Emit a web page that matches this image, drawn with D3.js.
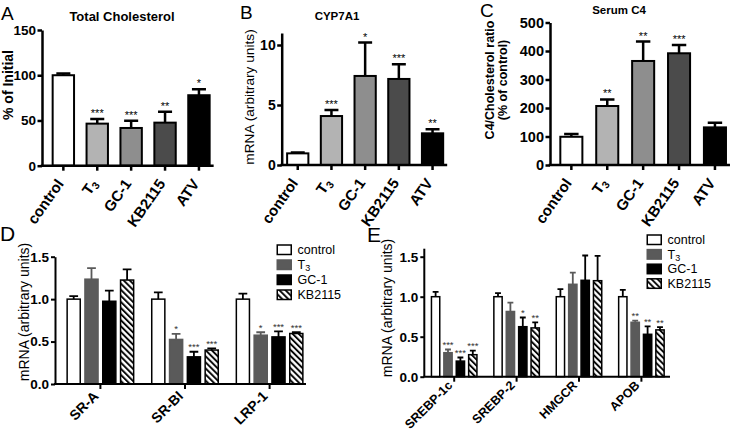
<!DOCTYPE html>
<html><head><meta charset="utf-8">
<script src="https://cdn.jsdelivr.net/npm/d3@7"></script>
<style>
body{margin:0;background:#fff}
svg{display:block}
text{font-family:"Liberation Sans",Arial,Helvetica,sans-serif}
</style>
</head><body>
<svg id="chart" width="733" height="432"></svg>
<script>
// ---------- DATA ----------
const treatments = ["control", "T3", "GC-1", "KB2115", "ATV"];

const cholMean  = [100, 46.5, 41.7, 47.6, 77.9];
const cholSem   = [2, 5.2, 8.1, 12.1, 6.6];
const cholStars = ["", "***", "***", "**", "*"];
const cholTicks = [0, 50, 100, 150];

const cypMean  = [0.97, 4.08, 7.42, 7.17, 2.64];
const cypSem   = [0.08, 0.5, 2.78, 1.22, 0.33];
const cypStars = ["", "***", "*", "***", "**"];
const cypTicks = [0, 5, 10];

const c4Mean  = [99, 207, 365, 392, 132];
const c4Sem   = [10, 23, 68, 29, 16];
const c4Stars = ["", "**", "**", "***", ""];
const c4Ticks = [0, 100, 200, 300, 400, 500];

const series = ["control", "T3", "GC-1", "KB2115"];

const dGenes = ["SR-A", "SR-BI", "LRP-1"];
const dControl = [1.0, 1.0, 1.0];
const dControlSem = [0.035, 0.08, 0.065];
const dT3 = [1.235, 0.525, 0.575];
const dT3Sem = [0.13, 0.065, 0.035];
const dGC1 = [0.975, 0.32, 0.555];
const dGC1Sem = [0.125, 0.06, 0.065];
const dKB = [1.225, 0.40, 0.595];
const dKBSem = [0.125, 0.02, 0.015];
const dStars = [["", "", ""], ["", "*", "*"], ["", "***", "***"], ["", "***", "***"]];

const eGenes = ["SREBP-1c", "SREBP-2", "HMGCR", "APOB"];
const eControl = [1.0, 1.0, 1.0, 1.0];
const eControlSem = [0.06, 0.045, 0.095, 0.085];
const eT3 = [0.30, 0.815, 1.155, 0.68];
const eT3Sem = [0.04, 0.11, 0.145, 0.02];
const eGC1 = [0.195, 0.625, 1.205, 0.53];
const eGC1Sem = [0.045, 0.115, 0.31, 0.10];
const eKB = [0.275, 0.61, 1.20, 0.585];
const eKBSem = [0.05, 0.07, 0.31, 0.035];
const eStars = [["", "", "", ""], ["***", "", "", "**"], ["***", "*", "", "**"], ["***", "**", "", "**"]];

const mrnaTicks = [0, 0.5, 1.0, 1.5];

// ---------- STYLE ----------
const fillsABC = ["#ffffff", "#b3b3b3", "#8e8e8e", "#4b4b4b", "#000000"];
const fillsDE = ["#ffffff", "#5a5a5a", "#000000", "url(#hatch)"];
const strokeDE = ["#000", "#5a5a5a", "#000", "#000"];

const svg = d3.select("#chart");
const defs = svg.append("defs");
const pat = defs.append("pattern").attr("id", "hatch")
  .attr("patternUnits", "userSpaceOnUse").attr("width", 4.3).attr("height", 4.3)
  .attr("patternTransform", "rotate(-45)");
pat.append("rect").attr("width", 4.3).attr("height", 4.3).attr("fill", "#fff");
pat.append("line").attr("x1", 1).attr("y1", 0).attr("x2", 1).attr("y2", 4.3)
  .attr("stroke", "#000").attr("stroke-width", 1.9);

function labelText(sel, d, sub) {
  if (d === "T3") {
    sel.append("tspan").text("T");
    sel.append("tspan").attr("font-size", sub).attr("dy", "0.25em").text("3");
  } else sel.text(d);
}

function styleAxis(a, sw, fs, bold) {
  a.select(".domain").attr("stroke-width", sw).attr("stroke", "#000");
  a.selectAll(".tick line").attr("stroke-width", sw).attr("stroke", "#000");
  a.selectAll(".tick text").attr("font-size", fs).attr("font-weight", bold ? "bold" : "normal")
    .attr("fill", "#000").attr("font-family", '"Liberation Sans",Arial,sans-serif');
}

function drawSimple(o) {
  const g = svg.append("g");
  const x = d3.scaleBand().domain(treatments).range(o.xr).paddingInner(o.pi).paddingOuter(o.pi / 2);
  const y = d3.scaleLinear().domain(o.yd).range(o.yr);
  const bw = x.bandwidth();
  const cx = d => x(d) + bw / 2;
  const y0 = y(0);
  const cw = bw * 0.6;
  const top = i => y(o.mean[i] + o.sem[i]);

  g.selectAll(".eb").data(treatments).join("path")
    .attr("d", (d, i) => `M${cx(d)},${y(o.mean[i])}V${top(i)}M${cx(d) - cw / 2},${top(i)}H${cx(d) + cw / 2}`)
    .attr("stroke", "#000").attr("stroke-width", 2.5).attr("fill", "none");
  g.selectAll(".bar").data(treatments).join("rect")
    .attr("x", d => x(d) + 1).attr("width", bw - 2)
    .attr("y", (d, i) => y(o.mean[i])).attr("height", (d, i) => y0 - y(o.mean[i]))
    .attr("fill", (d, i) => fillsABC[i]).attr("stroke", "#000").attr("stroke-width", 2);
  g.selectAll(".star").data(treatments).join("text")
    .attr("x", cx).attr("y", (d, i) => top(i) - 2)
    .attr("text-anchor", "middle").attr("font-size", 11).attr("fill", "#000")
    .text((d, i) => o.stars[i]);

  const ya = g.append("g").attr("transform", `translate(${o.ax},0)`)
    .call(d3.axisLeft(y).tickValues(o.ticks).tickSize(4.5).tickSizeOuter(0).tickPadding(1.5));
  styleAxis(ya, 2.5, o.tfs, true);

  const xa = g.append("g").attr("transform", `translate(0,${y0})`)
    .call(d3.axisBottom(x).tickSize(5).tickSizeOuter(0).tickFormat(""));
  const xend = x(treatments[treatments.length - 1]) + bw + 3;
  xa.select(".domain").attr("d", `M${o.ax - 1.25},0H${xend}`);
  styleAxis(xa, 2.5, 14, true);

  g.selectAll(".xl").data(treatments).join("text")
    .attr("transform", d => `translate(${cx(d) + 1},${y0 + 18}) rotate(-55)`)
    .attr("text-anchor", "end").attr("font-size", 15).attr("font-weight", "bold")
    .each(function (d) { labelText(d3.select(this), d, 10.5); });

  g.append("text").attr("x", o.titleX).attr("y", o.titleY).attr("text-anchor", "middle")
    .attr("font-size", o.titleSize).attr("font-weight", "bold").text(o.title);
  g.append("text").attr("x", o.letterX).attr("y", o.letterY).attr("font-size", 19).text(o.letter);
  o.ylabel.forEach((t, k) => {
    g.append("text").attr("transform", `translate(${o.ylx[k]},${o.yly}) rotate(-90)`)
      .attr("text-anchor", "middle").attr("font-size", o.ylfs)
      .attr("font-weight", o.ylbold ? "bold" : "normal").text(t);
  });
}

drawSimple({xr: [46.4, 215.9], pi: 0.31, yd: [0, 150], yr: [165.7, 30], ax: 42, ticks: cholTicks,
  tfs: 13.5, mean: cholMean, sem: cholSem, stars: cholStars, title: "Total Cholesterol", titleX: 122, titleY: 21,
  titleSize: 13, letter: "A", letterX: 1, letterY: 20, ylabel: ["% of Initial"], ylx: [12.5], yly: 85, ylfs: 14, ylbold: true});
drawSimple({xr: [280.9, 449.4], pi: 0.31, yd: [0, 11], yr: [165, 33], ax: 281.7, ticks: cypTicks,
  tfs: 14, mean: cypMean, sem: cypSem, stars: cypStars, title: "CYP7A1", titleX: 337, titleY: 20,
  titleSize: 11.5, letter: "B", letterX: 240, letterY: 19, ylabel: ["mRNA (arbitrary units)"], ylx: [254], yly: 97, ylfs: 13.7, ylbold: false});
drawSimple({xr: [553.4, 732.9], pi: 0.33, yd: [0, 500], yr: [165, 22.5], ax: 550, ticks: c4Ticks,
  tfs: 14.5, mean: c4Mean, sem: c4Sem, stars: c4Stars, title: "Serum C4", titleX: 619, titleY: 14,
  titleSize: 11.5, letter: "C", letterX: 480, letterY: 17, ylabel: ["C4/Cholesterol ratio", "(% of control)"], ylx: [494, 507], yly: 80, ylfs: 12.5, ylbold: true});

function drawGrouped(o) {
  const g = svg.append("g");
  const x0 = d3.scaleBand().domain(o.genes).range(o.xr).paddingInner(o.pi).paddingOuter(o.pi / 2);
  const x1 = d3.scaleBand().domain(series).range([0, x0.bandwidth()]).paddingInner(o.pin);
  const y = d3.scaleLinear().domain(o.yd).range(o.yr);
  const y0 = y(0);
  const bw = x1.bandwidth();
  const cw = bw * 0.6;
  const rows = [];
  series.forEach((s, si) => o.genes.forEach((gn, gi) => rows.push({s, si, gn, gi, v: o.vals[si][gi], e: o.sems[si][gi], st: o.stars[si][gi]})));
  const cx = r => x0(r.gn) + x1(r.s) + bw / 2;
  const top = r => y(r.v + r.e);

  g.selectAll(".eb").data(rows).join("path")
    .attr("d", r => `M${cx(r)},${y(r.v)}V${top(r)}M${cx(r) - cw / 2},${top(r)}H${cx(r) + cw / 2}`)
    .attr("stroke", r => strokeDE[r.si]).attr("stroke-width", 1.8).attr("fill", "none");
  g.selectAll(".bar").data(rows).join("rect")
    .attr("x", r => x0(r.gn) + x1(r.s) + 0.75).attr("width", bw - 1.5)
    .attr("y", r => y(r.v)).attr("height", r => y0 - y(r.v))
    .attr("fill", r => fillsDE[r.si]).attr("stroke", r => strokeDE[r.si]).attr("stroke-width", 1.5);
  g.selectAll(".star").data(rows).join("text")
    .attr("x", cx).attr("y", r => top(r) - 1.5)
    .attr("text-anchor", "middle").attr("font-size", 9.5).attr("fill", "#333")
    .text(r => r.st);

  const ya = g.append("g").attr("transform", `translate(${o.ax},0)`)
    .call(d3.axisLeft(y).tickValues(mrnaTicks).tickSize(4).tickSizeOuter(0).tickPadding(2).tickFormat(d3.format(".1f")));
  styleAxis(ya, 2, 13.5, true);
  if (o.yd[1] > 1.5) ya.select(".domain").attr("d", `M0,${y(o.yd[1])}V${y0}`);

  const xa = g.append("g").attr("transform", `translate(0,${y0})`)
    .call(d3.axisBottom(x0).tickSize(5).tickSizeOuter(0).tickFormat(""));
  xa.select(".domain").attr("d", `M${o.ax - 1},0H${o.xend}`);
  styleAxis(xa, 2, 12, true);

  g.selectAll(".xl").data(o.genes).join("text")
    .attr("transform", d => `translate(${x0(d) + x0.bandwidth() / 2 - 1},${y0 + o.xlOff}) rotate(-45)`)
    .attr("text-anchor", "end").attr("font-size", o.xlfs).attr("font-weight", "bold").text(d => d);

  // legend
  const lg = g.append("g");
  series.forEach((s, i) => {
    const yy = o.legY + i * o.legStep;
    lg.append("rect").attr("x", o.legX + 0.75).attr("y", yy - 4.5).attr("width", 14).attr("height", 9.5)
      .attr("fill", fillsDE[i]).attr("stroke", strokeDE[i]).attr("stroke-width", 1.5);
    const t = lg.append("text").attr("x", o.legX + 21).attr("y", yy + 4.5).attr("font-size", 12.5);
    labelText(t, s, 9);
  });

  g.append("text").attr("x", o.letterX).attr("y", o.letterY).attr("font-size", 21).text(o.letter);
  g.append("text").attr("transform", `translate(${o.ylx},${o.yly}) rotate(-90)`)
    .attr("text-anchor", "middle").attr("font-size", 14).text("mRNA (arbitrary units)");
}

drawGrouped({genes: dGenes, xr: [58.1, 311.9], pi: 0.196, pin: 0.18, yd: [0, 1.5], yr: [384, 256.7], ax: 55, xend: 306,
  vals: [dControl, dT3, dGC1, dKB], sems: [dControlSem, dT3Sem, dGC1Sem, dKBSem], stars: dStars, xlfs: 14, xlOff: 13,
  legX: 276.5, legY: 249.5, legStep: 15, letter: "D", letterX: 0, letterY: 241, ylx: 29, yly: 312});
drawGrouped({genes: eGenes, xr: [423, 672.6], pi: 0.247, pin: 0.21, yd: [0, 1.6], yr: [376.7, 248.7], ax: 424.3, xend: 670,
  vals: [eControl, eT3, eGC1, eKB], sems: [eControlSem, eT3Sem, eGC1Sem, eKBSem], stars: eStars, xlfs: 12.5, xlOff: 9.5,
  legX: 646.5, legY: 239.5, legStep: 14.6, letter: "E", letterX: 367, letterY: 242, ylx: 392, yly: 308});
</script>
</body></html>
